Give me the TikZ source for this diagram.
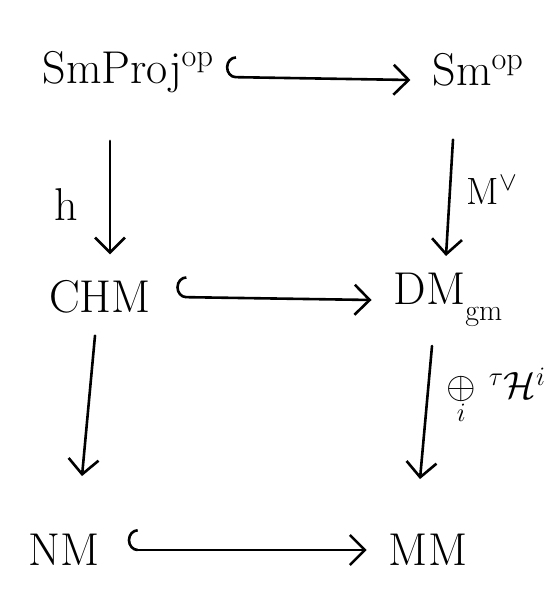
\RequirePackage{fix-cm}
\documentclass[tikz,border=0pt]{standalone}
\usetikzlibrary{arrows.meta}
\tikzset{
  obj/.style={inner sep=0pt, font=\fontsize{46}{50}\selectfont},
  lbl/.style={inner sep=0pt, font=\fontsize{38}{42}\selectfont},
  mor/.style={line width=2.6pt, line cap=round,
    -{Straight Barb[length=15pt,width=30pt,line width=2.6pt]}},
  inc/.style={mor,
    {Hooks[right,arc=180,length=10pt,width=42pt,line width=2.6pt]}-{Straight Barb[length=15pt,width=30pt,line width=2.6pt]}}
}
\begin{document}
\begin{tikzpicture}[x=1pt,y=-1pt]
  \useasboundingbox (0,0) rectangle (557,607);
  % objects
  \node[obj] (spo) at (128,72) {SmProj\textsuperscript{op}};
  \node[obj] (smo) at (478,70) {Sm\textsuperscript{op}};
  \node[obj] (chm) at (100,297) {CHM};
  \node[obj] (dm)  at (448,300) {DM\raisebox{-0.35em}{\fontsize{30}{32}\selectfont gm}};
  \node[obj] (nm)  at (64,550) {NM};
  \node[obj] (mm)  at (428,550) {MM};
  % labels
  \node[obj] (lh) at (66,205) {h};
  \node[lbl] (lm) at (492,190) {M$^{\vee}$};
  \node[lbl] (lc) at (496,395) {$\mathop{\oplus}\limits_{i}\,{}^{\tau}\mathcal{H}^{i}$};
  % horizontal inclusions
  \draw[inc] ([xshift=12pt,yshift=-5pt]spo.east) -- ([xshift=-22pt,yshift=-10pt]smo.west);
  \draw[inc] ([xshift=25pt]chm.east) -- ([xshift=-22pt]dm.west);
  \draw[inc] ([xshift=28pt]nm.east) -- ([xshift=-22pt]mm.west);
  % vertical arrows
  \draw[mor] ([xshift=-18pt,yshift=-48pt]spo.south) -- ([xshift=10pt,yshift=26pt]chm.north);
  \draw[mor] ([xshift=-25pt,yshift=-53pt]smo.south) -- ([xshift=-2pt,yshift=17pt]dm.north);
  \draw[mor] ([xshift=-5pt,yshift=-22pt]chm.south) -- ([xshift=18pt,yshift=58pt]nm.north);
  \draw[mor] ([xshift=-16pt,yshift=-19pt]dm.south) -- ([xshift=-8pt,yshift=55pt]mm.north);
\end{tikzpicture}
\end{document}
